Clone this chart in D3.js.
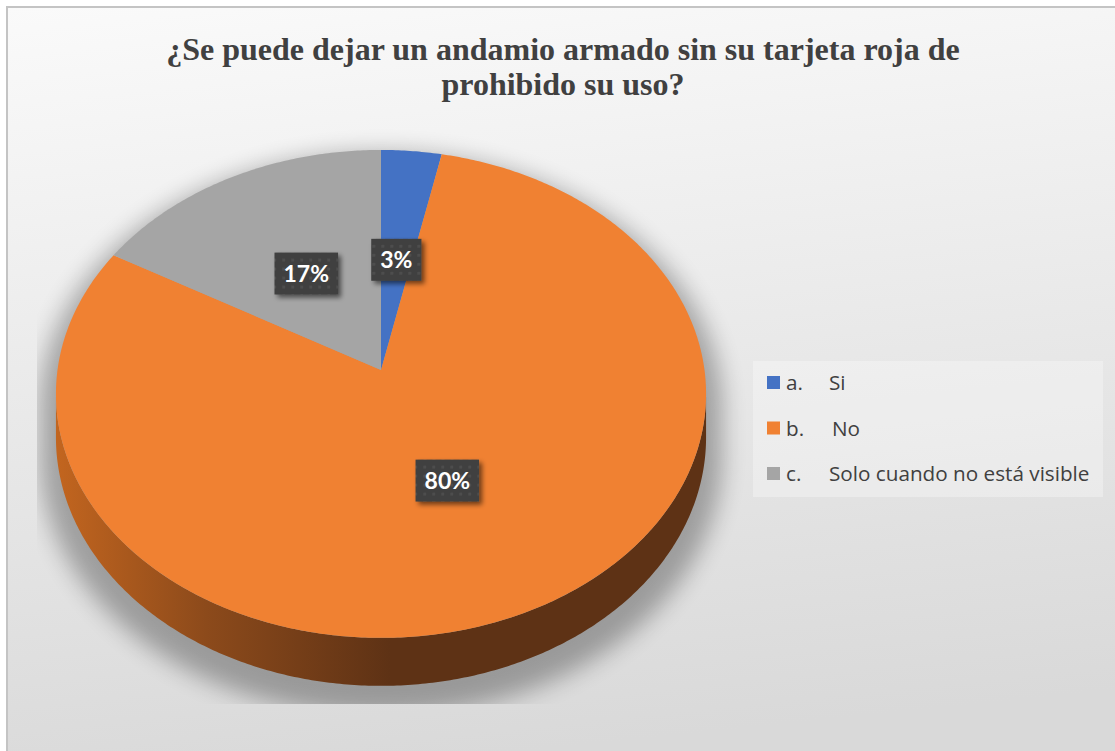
<!DOCTYPE html>
<html>
<head>
<meta charset="utf-8">
<script src="https://cdn.jsdelivr.net/npm/d3@7"></script>
<style>
  html, body { margin: 0; padding: 0; background: #fff; overflow: hidden; }
  svg { display: block; }
</style>
</head>
<body>
<svg id="chart" width="1115" height="751"></svg>
<script>
// data
const letters = ["a.", "b.", "c."];
const labels = ["Si", "No", "Solo cuando no está visible"];
const values = [3.3, 80, 16.7];
const colors = ["#4472c4", "#f08132", "#a5a5a5"];
const titleLines = ["¿Se puede dejar un andamio armado sin su tarjeta roja de", "prohibido su uso?"];

const width = 1115, height = 751;

// 3D pie geometry (perspective tilt)
const cx = 381, cy = 370;
const rx = 323.5, ry = 241.6;
const persp = -0.098;   // perspective factor, near side larger
const depth = 43.3;
const labelRadius = 0.48;

const svg = d3.select("#chart");
const defs = svg.append("defs");

// background gradient
const bg = defs.append("linearGradient").attr("id", "bg")
    .attr("x1", 0).attr("y1", 0).attr("x2", 0.15).attr("y2", 1);
bg.append("stop").attr("offset", 0).attr("stop-color", "#fafafa");
bg.append("stop").attr("offset", 1).attr("stop-color", "#d9d9d9");

// side gradient
const side = defs.append("linearGradient").attr("id", "side")
    .attr("gradientUnits", "userSpaceOnUse")
    .attr("x1", 57).attr("y1", 0).attr("x2", 390).attr("y2", 0);
side.append("stop").attr("offset", 0).attr("stop-color", "#c2651f");
side.append("stop").attr("offset", 0.45).attr("stop-color", "#8c4a1b");
side.append("stop").attr("offset", 1).attr("stop-color", "#5e3215");

const blur = defs.append("filter").attr("id", "blur")
    .attr("x", "-20%").attr("y", "-20%").attr("width", "140%").attr("height", "140%");
blur.append("feGaussianBlur").attr("stdDeviation", 11);

const boxShadow = defs.append("filter").attr("id", "boxShadow")
    .attr("x", "-30%").attr("y", "-30%").attr("width", "160%").attr("height", "160%");
boxShadow.append("feGaussianBlur").attr("in", "SourceAlpha").attr("stdDeviation", 2.5);
boxShadow.append("feOffset").attr("dx", 3).attr("dy", 3).attr("result", "o");
boxShadow.append("feComponentTransfer").append("feFuncA").attr("type", "linear").attr("slope", 0.55);
const merge = boxShadow.append("feMerge");
merge.append("feMergeNode");
merge.append("feMergeNode").attr("in", "SourceGraphic");

const dots = defs.append("pattern").attr("id", "dots")
    .attr("patternUnits", "userSpaceOnUse").attr("width", 9).attr("height", 9);
dots.append("rect").attr("width", 9).attr("height", 9).attr("fill", "#3f3f3f");
dots.append("rect").attr("x", 3).attr("y", 3).attr("width", 3).attr("height", 3).attr("fill", "#4d4d4d");

defs.append("clipPath").attr("id", "plotClip")
    .append("rect").attr("x", 37).attr("y", 100).attr("width", 720).attr("height", 604);

// chart area
svg.append("rect")
    .attr("x", 7).attr("y", 7).attr("width", 1130).attr("height", 780)
    .attr("fill", "url(#bg)")
    .attr("stroke", "#c4c4c4").attr("stroke-width", 2);

// title
svg.append("g").selectAll("text")
    .data(titleLines)
    .join("text")
    .attr("x", 563)
    .attr("y", (d, i) => 60 + i * 35)
    .attr("text-anchor", "middle")
    .attr("font-family", "'Liberation Serif', 'Times New Roman', serif")
    .attr("font-weight", "bold")
    .attr("font-size", 32)
    .attr("fill", "#404040")
    .text(d => d);

// projection of a point on the disc (angle clockwise from 12 o'clock)
function proj(a, r, dz) {
    const u = r * Math.sin(a), v = -r * Math.cos(a);
    const w = 1 + persp * v;
    return [cx + rx * u / w, cy + ry * v / w + (dz || 0) / w];
}

function arcPoints(a0, a1, dz) {
    const n = Math.max(2, Math.ceil(Math.abs(a1 - a0) / 0.01));
    return d3.range(n + 1).map(i => proj(a0 + (a1 - a0) * i / n, 1, dz));
}

const line = d3.line();
const pie = d3.pie().sort(null).value(d => d);
const arcs = pie(values);
const total = d3.sum(values);

// front range of the rim where the side is visible
const front0 = Math.acos(persp), front1 = 2 * Math.PI - Math.acos(persp);

function sidePath(d) {
    const a0 = Math.max(d.startAngle, front0), a1 = Math.min(d.endAngle, front1);
    if (a0 >= a1) return null;
    const pts = arcPoints(a0, a1, 0).concat(arcPoints(a1, a0, depth));
    return line(pts) + "Z";
}

function topPath(d) {
    return line([proj(0, 0)].concat(arcPoints(d.startAngle, d.endAngle, 0))) + "Z";
}

// soft shadow under the pie
const shadow = svg.append("g").attr("clip-path", "url(#plotClip)")
    .append("g")
    .attr("filter", "url(#blur)")
    .attr("opacity", 0.3)
    .attr("transform", `translate(${cx},${cy + 14}) scale(1.05) translate(${-cx},${-cy})`);
shadow.append("path")
    .attr("d", line(arcPoints(0, 2 * Math.PI, 0)) + "Z")
    .attr("fill", "#000");
shadow.append("path")
    .attr("d", line(arcPoints(front0, front1, 0).concat(arcPoints(front1, front0, depth))) + "Z")
    .attr("fill", "#000");

const pieG = svg.append("g");

pieG.selectAll("path.side")
    .data(arcs)
    .join("path")
    .attr("class", "side")
    .attr("d", sidePath)
    .attr("fill", "url(#side)");

pieG.selectAll("path.top")
    .data(arcs)
    .join("path")
    .attr("class", "top")
    .attr("d", topPath)
    .attr("fill", (d, i) => colors[i]);

// data labels
const fmt = d3.format(".0%");
const lab = svg.append("g").selectAll("g")
    .data(arcs)
    .join("g")
    .attr("transform", d => {
        const p = proj((d.startAngle + d.endAngle) / 2, labelRadius);
        return `translate(${p[0]},${p[1]})`;
    });

lab.append("rect").attr("fill", "url(#dots)").attr("filter", "url(#boxShadow)");
lab.append("text")
    .attr("text-anchor", "middle")
    .attr("dy", "0.36em")
    .attr("font-family", "Lato, 'Open Sans', sans-serif")
    .attr("font-weight", "bold")
    .attr("font-size", 23)
    .attr("fill", "#ffffff")
    .text(d => fmt(d.data / total));

lab.each(function() {
    const g = d3.select(this);
    const w = g.select("text").node().getComputedTextLength() + 18;
    g.select("rect").attr("x", -w / 2).attr("y", -21).attr("width", w).attr("height", 42);
});

// legend
const legend = svg.append("g");
legend.append("rect")
    .attr("x", 753).attr("y", 361).attr("width", 350).attr("height", 136)
    .attr("fill", "#ffffff").attr("opacity", 0.3);

const item = legend.selectAll("g")
    .data(labels)
    .join("g")
    .attr("transform", (d, i) => `translate(767,${383 + i * 45.5})`);

item.append("rect")
    .attr("x", 0).attr("y", -7).attr("width", 13).attr("height", 13)
    .attr("fill", (d, i) => colors[i]);

item.append("text")
    .attr("x", 19).attr("dy", "0.35em")
    .attr("font-family", "'Open Sans', Lato, sans-serif")
    .attr("font-size", 20.7)
    .attr("fill", "#404040")
    .text((d, i) => letters[i]);

item.append("text")
    .attr("x", (d, i) => i === 1 ? 65 : 62).attr("dy", "0.35em")
    .attr("font-family", "'Open Sans', Lato, sans-serif")
    .attr("font-size", 20.7)
    .attr("fill", "#404040")
    .text(d => d);
</script>
</body>
</html>
